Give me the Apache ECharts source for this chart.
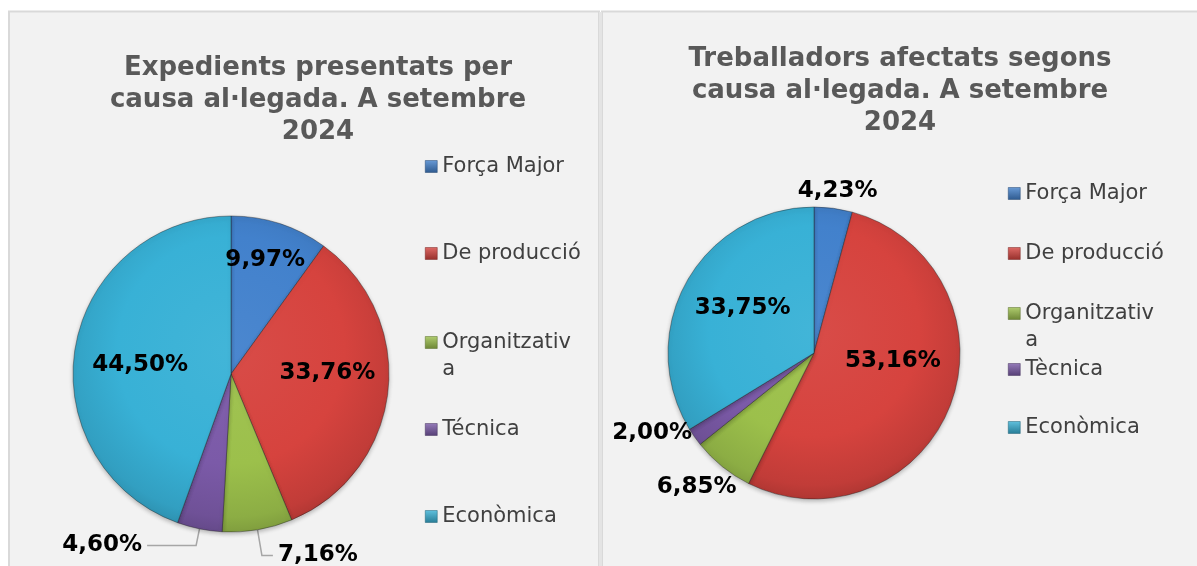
<!DOCTYPE html>
<html><head><meta charset="utf-8">
<script src="https://cdn.jsdelivr.net/npm/echarts@6/dist/echarts.min.js"></script>
<style>html,body{margin:0;padding:0;background:#fff}#c{width:1197px;height:566px}</style>
</head><body><div id="c"></div>
<script>
// ---- data ----
const leftTitle = 'Expedients presentats per\ncausa al·legada. A setembre\n2024';
const rightTitle = 'Treballadors afectats segons\ncausa al·legada. A setembre\n2024';
const leftCategories = ['Força Major', 'De producció', 'Organitzativa', 'Técnica', 'Econòmica'];
const leftValues = [9.97, 33.76, 7.16, 4.60, 44.50];
const rightCategories = ['Força Major', 'De producció', 'Organitzativa', 'Tècnica', 'Econòmica'];
const rightValues = [4.23, 53.16, 6.85, 2.00, 33.75];

// ---- styles ----
const sliceColors = ['#4281cc', '#d6433e', '#9cc04b', '#7b5aa8', '#38b1d6'];
const FONT = 'DejaVu Sans';
const leftPie = { center: [231, 374], r: 158 };
const rightPie = { center: [814, 353], r: 146 };
// label placement styles per slice (index order)
const leftLabelStyle = [
  { pos: 'inside', dx: 9, dy: -36 },
  { pos: 'inside', dx: 15, dy: -10 },
  { pos: 'outside', len: 26, len2: 11, line: true },
  { pos: 'outside', len: 17, len2: 49, line: true },
  { pos: 'inside', dx: -10, dy: 5 }
];
const rightLabelStyle = [
  { pos: 'outside', len: 10, len2: 0, dx: -42, dy: -7 },
  { pos: 'inside', dx: 8, dy: -19 },
  { pos: 'outside', len: 20, len2: 0, dx: 32, dy: 5 },
  { pos: 'outside', len: 2, len2: 0, dx: 4, dy: -5 },
  { pos: 'inside', dx: -5, dy: -8 }
];
const leftLegendY = [166, 253, 341, 429, 516];
const rightLegendY = [193, 253, 312, 369, 427];

function mix(hex, target, t) {
  const a = parseInt(hex.slice(1), 16);
  const r = (a >> 16) & 255, g = (a >> 8) & 255, b = a & 255;
  const f = v => Math.round(v + (target - v) * t);
  return 'rgb(' + f(r) + ',' + f(g) + ',' + f(b) + ')';
}
function sliceFill(base, pie) {
  const [cx, cy] = pie.center;
  return {
    type: 'radial', global: true,
    x: cx, y: cy - pie.r * 0.15, r: pie.r * 1.2,
    colorStops: [
      { offset: 0, color: mix(base, 255, 0.05) },
      { offset: 0.6, color: base },
      { offset: 0.88, color: mix(base, 0, 0.1) },
      { offset: 1, color: mix(base, 0, 0.22) }
    ]
  };
}
function iconFill(base) {
  return {
    type: 'linear', x: 0, y: 0, x2: 0, y2: 1,
    colorStops: [{ offset: 0, color: mix(base, 255, 0.2) }, { offset: 1, color: mix(base, 0, 0.3) }]
  };
}
function fmt(v) { return v.toFixed(2).replace('.', ',') + '%'; }

function buildSeries(names, values, pie, labelStyle) {
  return {
    type: 'pie',
    center: pie.center,
    radius: pie.r,
    startAngle: 90,
    clockwise: true,
    avoidLabelOverlap: false,
    animation: false,
    itemStyle: {
      borderColor: 'rgba(30,30,30,0.4)', borderWidth: 1,
      shadowBlur: 4, shadowColor: 'rgba(0,0,0,0.25)', shadowOffsetY: 2
    },
    label: {
      formatter: p => fmt(p.value),
      fontFamily: FONT, fontWeight: 'bold', fontSize: 23, color: '#000'
    },
    labelLine: { lineStyle: { color: '#a6a6a6', width: 1.5 }, smooth: false },
    labelLayout: p => {
      const s = labelStyle[p.dataIndex];
      return { dx: s.dx || 0, dy: s.dy || 0 };
    },
    data: names.map((n, i) => {
      const s = labelStyle[i];
      return {
        name: n, value: values[i],
        itemStyle: { color: sliceFill(sliceColors[i], pie) },
        label: { position: s.pos },
        labelLine: { show: !!s.line, length: s.len || 0, length2: s.len2 || 0 }
      };
    })
  };
}

function buildLegends(names, ys, left, iw) {
  return names.map((n, i) => {
    const wrap = n === 'Organitzativa';
    return {
      data: [n],
      left: left,
      top: ys[i] - (wrap ? 39 : 13),
      padding: 0,
      icon: 'rect',
      itemWidth: iw, itemHeight: iw,
      selectedMode: false,
      formatter: wrap ? '\nOrganitzativ\na' : '{name}',
      itemStyle: { color: iconFill(sliceColors[i]), borderColor: mix(sliceColors[i], 0, 0.45), borderWidth: 0.5 },
      textStyle: { fontFamily: FONT, fontSize: 21, color: '#404040', lineHeight: 27 }
    };
  });
}

const chart = echarts.init(document.getElementById('c'), null, { renderer: 'canvas' });
chart.setOption({
  backgroundColor: '#ffffff',
  animation: false,
  graphic: [
    { type: 'rect', z: -10, silent: true, shape: { x: 9, y: 11.5, width: 590, height: 560 },
      style: { fill: '#f2f2f2', stroke: '#d9d9d9', lineWidth: 2 } },
    { type: 'rect', z: -10, silent: true, shape: { x: 602, y: 11.5, width: 600, height: 560 },
      style: { fill: '#f2f2f2', stroke: '#d9d9d9', lineWidth: 2 } },
    { type: 'rect', z: -9, silent: true, shape: { x: 599, y: 12, width: 3, height: 560 },
      style: { fill: '#e4e4e4' } }
  ],
  title: [
    { text: leftTitle, left: 313, top: 47, textAlign: 'center',
      textStyle: { fontFamily: FONT, fontWeight: 'bold', fontSize: 26, color: '#595959', lineHeight: 32 } },
    { text: rightTitle, left: 895, top: 38, textAlign: 'center',
      textStyle: { fontFamily: FONT, fontWeight: 'bold', fontSize: 26, color: '#595959', lineHeight: 32 } }
  ],
  legend: buildLegends(leftCategories, leftLegendY, 425, 12)
    .concat(buildLegends(rightCategories, rightLegendY, 1008, 12)),
  series: [
    buildSeries(leftCategories, leftValues, leftPie, leftLabelStyle),
    buildSeries(rightCategories, rightValues, rightPie, rightLabelStyle)
  ]
});
</script>
</body></html>
